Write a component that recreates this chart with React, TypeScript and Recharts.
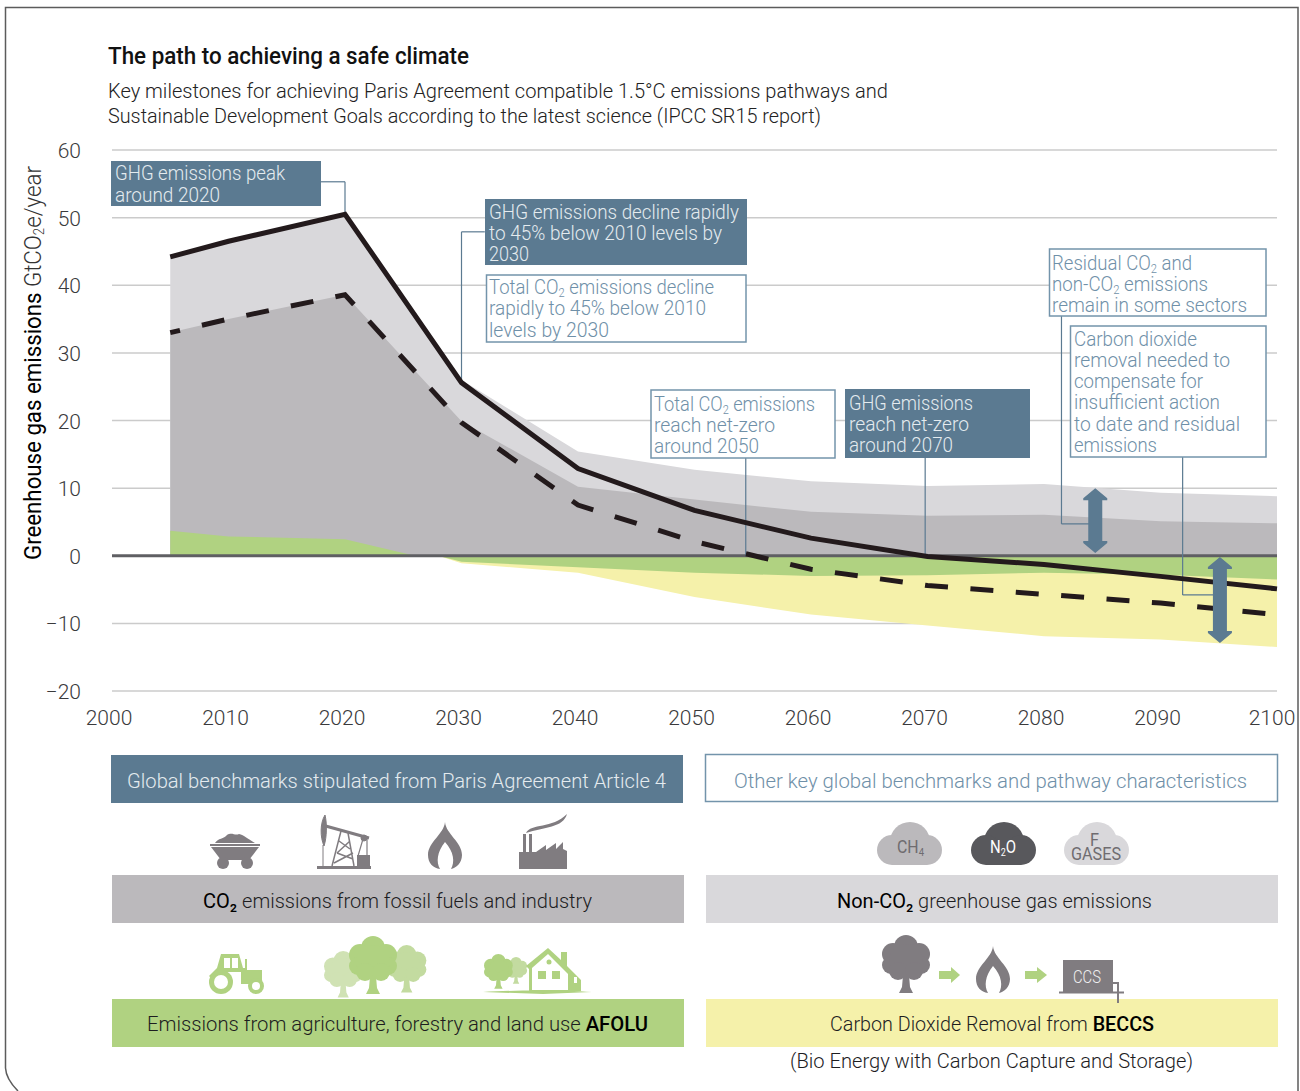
import React from "react";
import {
  ComposedChart,
  Area,
  Line,
  XAxis,
  YAxis,
  CartesianGrid,
  ReferenceLine,
} from "recharts";

const years = [2005, 2010, 2020, 2026, 2028, 2030, 2040, 2050, 2060, 2070, 2080, 2090, 2100];
const ghgLine = [44.2, 46.5, 50.5, null, null, 25.6, 12.9, 6.7, 2.6, -0.1, -1.3, -3.05, -4.9];
const co2Line = [33, 35, 38.6, null, null, 19.7, 7.5, 2.1, -2, -4.4, -5.7, -7, -8.7];
const nonCo2Top = [44.2, 46.5, 50.5, null, null, 26, 15.4, 12.7, 11, 10.3, 10.6, 9.3, 8.8];
const co2Top = [33, 35, 38.6, null, null, 19.9, 10.2, 8.3, 6.5, 5.9, 6.05, 5.1, 4.8];
const afoluPositive = [3.7, 2.85, 2.45, 0, null, null, null, null, null, null, null, null, null];
const afoluNegative = [null, null, null, null, 0, -0.9, -1.7, -2.5, -3, -2.9, -2.5, -2.8, -3.5];
const beccs = [null, null, null, null, 0, -1.1, -2.5, -6.1, -8.7, -10.3, -11.9, -12.4, -13.5];

const xTicks = [2000, 2010, 2020, 2030, 2040, 2050, 2060, 2070, 2080, 2090, 2100];
const yTicks = [-20, -10, 0, 10, 20, 30, 40, 50, 60];

const chartData = years.map((year, i) => ({
  year,
  ghgLine: ghgLine[i],
  co2Line: co2Line[i],
  nonCo2Top: nonCo2Top[i],
  co2Top: co2Top[i],
  afoluPositive: afoluPositive[i],
  afoluNegative: afoluNegative[i],
  beccs: beccs[i],
}));

// leader lines from the boxes, in data units
const leaders = [
  [[2017.9, 55.3], [2020, 55.3]],
  [[2020, 55.3], [2020, 50.5]],
  [[2030, 47.9], [2032, 47.9]],
  [[2030, 47.9], [2030, 25.6]],
  [[2054.4, 14.5], [2054.4, 0]],
  [[2069.8, 14.5], [2069.8, 0]],
  [[2081.5, 35.5], [2081.5, 4.7]],
  [[2081.5, 4.7], [2084.4, 4.7]],
  [[2091.9, 14.6], [2091.9, -5.8]],
  [[2091.9, -5.8], [2095.1, -5.8]],
];

const FONT = "Roboto, sans-serif";
const BLUE = "#5b7a91";
const BLUE_LINE = "#7394ab";
const PALE = "#e4ebef";
const DARK_GREY = "#bbb9bc";
const LIGHT_GREY = "#d9d8db";
const GREEN = "#b0d281";
const YELLOW = "#f5f1aa";
const ICON = "#807c80";

// one line of text squeezed to the measured width; ₂ and ₄ become subscripts, *x* is heavier
const Label = ({ x, y, w, size = 21, fill = "#1d1d1f", weight = 300, strong = 500, text }: any) => {
  const parts = text.split(/(₂|₄|\*[^*]+\*)/).filter((p: string) => p !== "");
  let wasSub = false;
  return (
    <text x={x} y={y} fontFamily={FONT} fontSize={size} fontWeight={weight} fill={fill} textLength={w} lengthAdjust="spacingAndGlyphs">
      {parts.map((p: string, i: number) => {
        const back = wasSub ? size * 0.14 : 0;
        if (p === "₂" || p === "₄") {
          wasSub = true;
          return (
            <tspan key={i} dy={size * 0.14} fontSize={size * 0.6}>
              {p === "₂" ? "2" : "4"}
            </tspan>
          );
        }
        wasSub = false;
        if (p.startsWith("*")) {
          return (
            <tspan key={i} dy={-back} fontWeight={strong} fill="#000">
              {p.slice(1, -1)}
            </tspan>
          );
        }
        return (
          <tspan key={i} dy={-back}>
            {p}
          </tspan>
        );
      })}
    </text>
  );
};

const Box = ({ x, y, w, h, filled, lines }: any) => (
  <g>
    <rect x={x} y={y} width={w} height={h} fill={filled ? BLUE : "#fff"} stroke={filled ? BLUE : BLUE_LINE} strokeWidth={filled ? 0 : 1.5} />
    {lines.map((l: any, i: number) => (
      <Label key={i} x={l[0]} y={l[1]} w={l[2]} text={l[3]} fill={filled ? PALE : "#6f90a8"} />
    ))}
  </g>
);

const Flame = ({ x, y }: any) => (
  <path
    transform={`translate(${x} ${y})`}
    fill={ICON}
    d="M17 0C18 12 34 20 34 33C34 41 28 46 23 47C27 40 26 30 17 20C9 30 8 40 12 47C5 46 0 41 0 33C0 20 16 12 17 0Z"
  />
);

const Tree = ({ x, y, s = 1, fill }: any) => (
  <g transform={`translate(${x} ${y}) scale(${s})`} fill={fill}>
    <circle cx={24} cy={12} r={12} />
    <circle cx={11} cy={19} r={11} />
    <circle cx={37} cy={19} r={11} />
    <circle cx={9} cy={30} r={9} />
    <circle cx={39} cy={30} r={9} />
    <circle cx={24} cy={26} r={17} />
    <circle cx={16} cy={36} r={9} />
    <circle cx={32} cy={36} r={9} />
    <path d="M21 40H27L28 52L31 58H17L20 52Z" />
  </g>
);

const Cloud = ({ x, y, fill }: any) => (
  <g transform={`translate(${x} ${y})`} fill={fill}>
    <circle cx={33} cy={20} r={20} />
    <circle cx={15} cy={28} r={15} />
    <circle cx={50} cy={28} r={15} />
    <rect x={15} y={20} width={35} height={23} />
  </g>
);

const BigArrow = ({ x1, y1, y2 }: any) => {
  const top = Math.min(y1, y2);
  const bottom = Math.max(y1, y2);
  return (
    <path
      fill={BLUE}
      d={`M${x1} ${top}L${x1 + 12} ${top + 10}V${top + 12}H${x1 + 7}V${bottom - 12}H${x1 + 12}V${bottom - 10}L${x1} ${bottom}L${x1 - 12} ${bottom - 10}V${bottom - 12}H${x1 - 7}V${top + 12}H${x1 - 12}V${top + 10}Z`}
    />
  );
};

const XTick = ({ x, y, payload }: any) => (
  <text x={payload.value === 2100 ? x - 5 : x - 3} y={y + 26} textAnchor="middle" fontFamily={FONT} fontWeight={300} fontSize={21} fill="#3a3a3c">
    {payload.value}
  </text>
);

const YTick = ({ y, payload }: any) => (
  <text x={81} y={y + 8} textAnchor="end" fontFamily={FONT} fontWeight={300} fontSize={21} fill="#3a3a3c">
    {payload.value < 0 ? `−${-payload.value}` : payload.value}
  </text>
);

const Icons = () => (
  <g>
    {/* coal cart */}
    <g transform="translate(210 832)" fill={ICON}>
      <path d="M5 11C8 6 14 7 17 3C22 0 25 4 29 2C34 3 38 7 45 11Z" />
      <rect x={0} y={12} width={50} height={2} />
      <path d="M1 15H49L39 28H11Z" />
      <circle cx={13} cy={31} r={6} />
      <circle cx={37} cy={31} r={6} />
    </g>
    {/* pumpjack */}
    <g transform="translate(317 815)" fill="none" stroke={ICON}>
      <rect x={0} y={51} width={54} height={3} fill={ICON} stroke="none" />
      <path d="M5 10L52 23" strokeWidth={3} />
      <path d="M8 0C3 8 3 22 7 31C10 22 10 8 8 0Z" fill={ICON} strokeWidth={1} />
      <path d="M6 30V51" strokeWidth={1} />
      <path d="M24 16L15 51M31 18L37 51M22 26L33 34M33 26L20 38M20 38L36 44M36 38L17 48" strokeWidth={1.5} />
      <path d="M46 24L41 41M50 24V41" strokeWidth={1.2} />
      <circle cx={47} cy={23} r={3} fill={ICON} />
      <rect x={40} y={40} width={13} height={11} fill={ICON} stroke="none" />
    </g>
    <Flame x={428} y={822} />
    {/* factory */}
    <g transform="translate(519 814)" fill={ICON}>
      <path d="M0 55V38H4V20H7V38H10V20H13V38H17L27 31V36L37 29V35L44 28V35L48 37V55Z" />
      <path d="M7 19C12 9 33 15 48 0C44 14 25 13 7 19Z" />
    </g>
    {/* tractor */}
    <g transform="translate(209 954)" fill={GREEN}>
      <path d="M0 22L8 14L12 0H30L34 14H36V5H38V16H53V30H32V18H8L3 25Z" />
      <rect x={15} y={4} width={6} height={10} fill="#fff" />
      <rect x={23} y={4} width={6} height={10} fill="#fff" />
      <circle cx={12} cy={28} r={12} />
      <circle cx={12} cy={28} r={7} fill="#fff" />
      <circle cx={47} cy={32} r={8} />
      <circle cx={47} cy={32} r={4} fill="#fff" />
    </g>
    <Tree x={324} y={951} s={0.8} fill="#d0e2b4" />
    <Tree x={387} y={945} s={0.82} fill="#c3dba0" />
    <Tree x={349} y={936} fill={GREEN} />
    {/* farm house */}
    <Tree x={505} y={957} s={0.46} fill="#c3dba0" />
    <Tree x={484} y={954} s={0.6} fill={GREEN} />
    <g transform="translate(483 948)">
      <path d="M0 44C30 42 80 42 109 44L60 46Z" fill={GREEN} />
      <path d="M43 18L65 0L78 12V4H84V18L98 32V43H46V21Z" fill={GREEN} />
      <path d="M49 20L65 6L85 26V42H49Z" fill="#fff" />
      <rect x={55} y={23} width={8} height={8} fill={GREEN} />
      <rect x={69} y={23} width={8} height={8} fill={GREEN} />
      <circle cx={66} cy={14} r={2.5} fill={GREEN} />
      <rect x={91} y={29} width={3} height={6} fill="#fff" />
    </g>
    {/* clouds */}
    <Cloud x={877} y={822} fill={DARK_GREY} />
    <Label x={897} y={853} w={27} size={18} fill="#6f6c70" weight={400} text="CH₄" />
    <Cloud x={971} y={822} fill="#58585c" />
    <Label x={990} y={853} w={26} size={18} fill="#fff" weight={400} text="N₂O" />
    <Cloud x={1064} y={822} fill={LIGHT_GREY} />
    <Label x={1090} y={846} w={9} size={18} fill="#6f6c70" weight={400} text="F" />
    <Label x={1071} y={860} w={50} size={18} fill="#6f6c70" weight={400} text="GASES" />
    {/* BECCS chain */}
    <Tree x={882} y={935} fill={ICON} />
    <path d="M939 971H951V967L960 975L951 983V979H939Z" fill={GREEN} />
    <Flame x={976} y={946} />
    <path d="M1025 971H1037V967L1047 975L1037 983V979H1025Z" fill={GREEN} />
    <rect x={1063} y={960} width={50} height={33} fill={ICON} />
    <Label x={1073} y={983} w={28} size={19} fill="#f0f0f0" text="CCS" />
    <path d="M1059 992.5H1124M1113 983H1118V1003" fill="none" stroke={ICON} strokeWidth={2} />
  </g>
);

export default function App() {
  return (
    <div style={{ position: "absolute", left: 0, top: 0, width: 1300, height: 1091, background: "#fff", overflow: "hidden" }}>
      <ComposedChart
        width={1300}
        height={1091}
        data={chartData}
        margin={{ top: 150, right: 23, bottom: 360, left: 52 }}
      >
        <CartesianGrid horizontal vertical={false} stroke="#cbcbcb" strokeWidth={1.5} />
        <XAxis
          dataKey="year"
          type="number"
          domain={[2000, 2100]}
          ticks={xTicks}
          axisLine={false}
          tickLine={false}
          height={40}
          tick={<XTick />}
        />
        <YAxis
          type="number"
          domain={[-20, 60]}
          ticks={yTicks}
          axisLine={false}
          tickLine={false}
          width={60}
          tick={<YTick />}
        />
        <Area dataKey="nonCo2Top" type="linear" baseValue={0} connectNulls fill={LIGHT_GREY} fillOpacity={1} stroke="none" isAnimationActive={false} />
        <Area dataKey="co2Top" type="linear" baseValue={0} connectNulls fill={DARK_GREY} fillOpacity={1} stroke="none" isAnimationActive={false} />
        <Area dataKey="afoluPositive" type="linear" baseValue={0} fill={GREEN} fillOpacity={1} stroke="none" isAnimationActive={false} />
        <Area dataKey="beccs" type="linear" baseValue={0} fill={YELLOW} fillOpacity={1} stroke="none" isAnimationActive={false} />
        <Area dataKey="afoluNegative" type="linear" baseValue={0} fill={GREEN} fillOpacity={1} stroke="none" isAnimationActive={false} />
        <ReferenceLine y={0} stroke="#5f5f63" strokeWidth={3} />
        {leaders.map((seg, i) => (
          <ReferenceLine
            key={i}
            segment={[
              { x: seg[0][0], y: seg[0][1] },
              { x: seg[1][0], y: seg[1][1] },
            ]}
            stroke={BLUE}
            strokeWidth={1.2}
            ifOverflow="visible"
          />
        ))}
        <Line dataKey="co2Line" type="linear" connectNulls stroke="#231a1c" strokeWidth={5} strokeDasharray="23 22.5" strokeDashoffset={13} dot={false} isAnimationActive={false} />
        <Line dataKey="ghgLine" type="linear" connectNulls stroke="#231a1c" strokeWidth={5} dot={false} isAnimationActive={false} />
        <ReferenceLine
          segment={[{ x: 2084.4, y: 10 }, { x: 2084.4, y: 0.4 }]}
          ifOverflow="visible"
          shape={(p: any) => <BigArrow {...p} />}
        />
        <ReferenceLine
          segment={[{ x: 2095.1, y: -0.2 }, { x: 2095.1, y: -12.9 }]}
          ifOverflow="visible"
          shape={(p: any) => <BigArrow {...p} />}
        />
      </ComposedChart>

      <svg width={1300} height={1091} style={{ position: "absolute", left: 0, top: 0 }}>
        <path d="M5.5 1068V7.5H1298V1091M5.5 1068C6 1078 12 1085 18 1091" fill="none" stroke="#5c5c5c" strokeWidth={1.5} />

        <Label x={108} y={64} w={361} size={23} weight={500} fill="#111" text="The path to achieving a safe climate" />
        <Label x={108} y={98} w={780} fill="#222" text="Key milestones for achieving Paris Agreement compatible 1.5°C emissions pathways and" />
        <Label x={108} y={123} w={713} fill="#222" text="Sustainable Development Goals according to the latest science (IPCC SR15 report)" />

        <g transform="translate(41 560) rotate(-90)">
          <Label x={0} y={0} w={394} size={23} fill="#333" strong={400} text="*Greenhouse gas emissions* GtCO₂e/year" />
        </g>

        <Box x={111} y={161} w={210} h={45} filled lines={[[115, 180, 170, "GHG emissions peak"], [115, 202, 105, "around 2020"]]} />
        <Box
          x={485}
          y={199}
          w={262}
          h={66}
          filled
          lines={[
            [489, 219, 250, "GHG emissions decline rapidly"],
            [489, 240, 233, "to 45% below 2010 levels by"],
            [489, 261, 40, "2030"],
          ]}
        />
        <Box
          x={486.5}
          y={275}
          w={259.5}
          h={67}
          lines={[
            [489, 294, 225, "Total CO₂ emissions decline"],
            [489, 315, 217, "rapidly to 45% below 2010"],
            [489, 337, 120, "levels by 2030"],
          ]}
        />
        <Box
          x={651}
          y={390}
          w={184}
          h={68}
          lines={[
            [654, 411, 161, "Total CO₂ emissions"],
            [654, 432, 121, "reach net-zero"],
            [654, 453, 105, "around 2050"],
          ]}
        />
        <Box
          x={845}
          y={389}
          w={185}
          h={69}
          filled
          lines={[
            [849, 410, 124, "GHG emissions"],
            [849, 431, 120, "reach net-zero"],
            [849, 452, 104, "around 2070"],
          ]}
        />
        <Box
          x={1049.5}
          y={249}
          w={216.5}
          h={67}
          lines={[
            [1052, 270, 140, "Residual CO₂ and"],
            [1052, 291, 156, "non-CO₂ emissions"],
            [1052, 312, 195, "remain in some sectors"],
          ]}
        />
        <Box
          x={1070.5}
          y={326}
          w={195.5}
          h={131}
          lines={[
            [1074, 346, 123, "Carbon dioxide"],
            [1074, 367, 156, "removal needed to"],
            [1074, 388, 129, "compensate for"],
            [1074, 409, 146, "insufficient action"],
            [1074, 431, 166, "to date and residual"],
            [1074, 452, 83, "emissions"],
          ]}
        />

        <rect x={111} y={755} width={572} height={48} fill={BLUE} />
        <Label x={127} y={788} w={539} fill={PALE} text="Global benchmarks stipulated from Paris Agreement Article 4" />
        <rect x={705.5} y={754.5} width={572} height={47} fill="#fff" stroke={BLUE_LINE} strokeWidth={1.5} />
        <Label x={734} y={788} w={513} fill="#6f90a8" text="Other key global benchmarks and pathway characteristics" />

        <rect x={112} y={875} width={572} height={48} fill={DARK_GREY} />
        <Label x={203} y={908} w={389} strong={400} text="*CO₂* emissions from fossil fuels and industry" />
        <rect x={706} y={875} width={572} height={48} fill={LIGHT_GREY} />
        <Label x={837} y={908} w={315} strong={400} text="*Non-CO₂* greenhouse gas emissions" />
        <rect x={112} y={999} width={572} height={48} fill={GREEN} />
        <Label x={147} y={1031} w={501} text="Emissions from agriculture, forestry and land use *AFOLU*" />
        <rect x={706} y={999} width={572} height={48} fill={YELLOW} />
        <Label x={830} y={1031} w={324} text="Carbon Dioxide Removal from *BECCS*" />
        <Label x={790} y={1068} w={403} text="(Bio Energy with Carbon Capture and Storage)" />

        <Icons />
      </svg>
    </div>
  );
}
